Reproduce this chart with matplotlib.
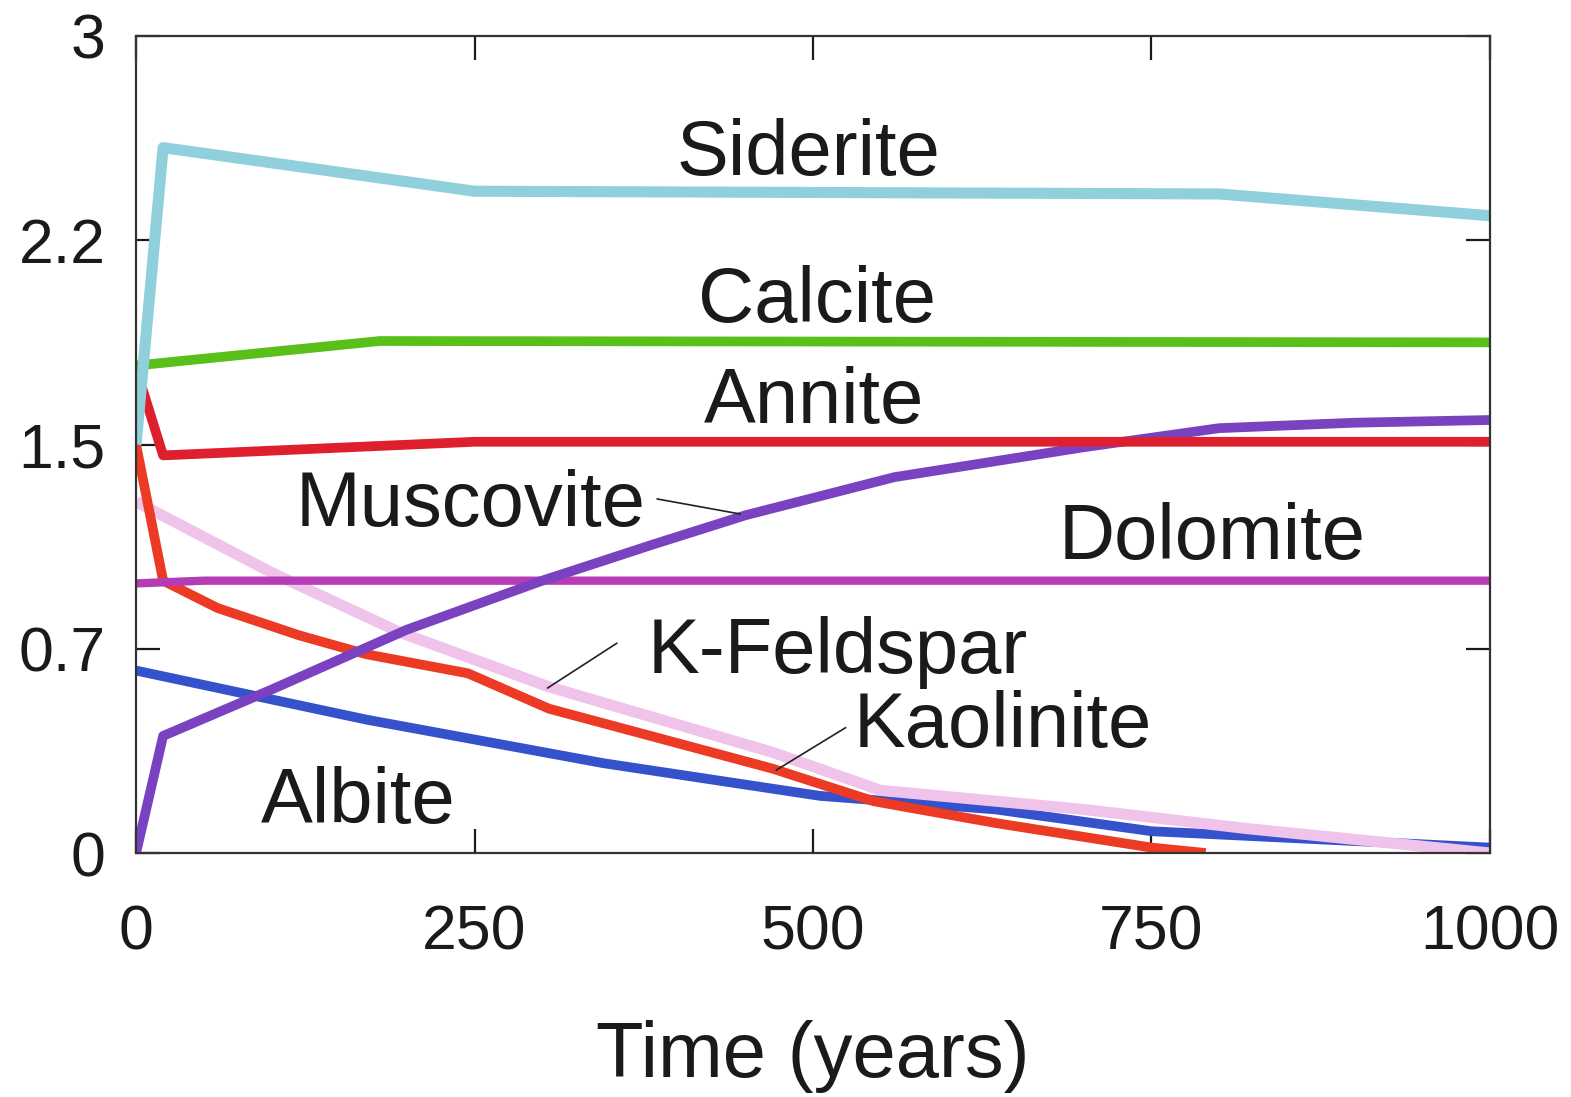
import numpy as np
import matplotlib.pyplot as plt

plt.rcParams['font.family'] = ['Liberation Sans', 'DejaVu Sans']

# mineral volume fraction vs time
siderite_t = [0, 20, 250, 800, 1000]
siderite_v = [1.5, 2.59, 2.43, 2.42, 2.34]

calcite_t = [0, 180, 1000]
calcite_v = [1.79, 1.88, 1.875]

annite_t = [0, 20, 250, 1000]
annite_v = [1.78, 1.46, 1.51, 1.51]

muscovite_t = [0, 20, 100, 200, 300, 380, 450, 560, 700, 800, 900, 1000]
muscovite_v = [0.0, 0.43, 0.6, 0.82, 1.0, 1.13, 1.24, 1.38, 1.49, 1.56, 1.58, 1.59]

dolomite_t = [0, 50, 1000]
dolomite_v = [0.99, 1.0, 1.0]

kfeldspar_t = [0, 100, 195, 305, 470, 550, 700, 820, 1000]
kfeldspar_v = [1.29, 1.03, 0.81, 0.61, 0.37, 0.23, 0.16, 0.09, 0.0]

kaolinite_t = [0, 20, 60, 120, 170, 245, 305, 470, 545, 635, 750, 790]
kaolinite_v = [1.5, 1.0, 0.9, 0.8, 0.73, 0.66, 0.53, 0.31, 0.19, 0.11, 0.02, 0.0]

albite_t = [0, 170, 345, 505, 635, 750, 1000]
albite_v = [0.67, 0.49, 0.33, 0.21, 0.16, 0.08, 0.02]

yticks = [0, 0.75, 1.5, 2.25, 3]
ytick_labels = ['0', '0.7', '1.5', '2.2', '3']
xticks = [0, 250, 500, 750, 1000]

fig = plt.figure(figsize=(15.71, 10.97), dpi=100)
ax = fig.add_axes([0.0866, 0.2224, 0.8618, 0.7448])

ax.plot(albite_t, albite_v, color='#3551cc', lw=7, solid_capstyle='butt')
ax.plot(kfeldspar_t, kfeldspar_v, color='#efc3ea', lw=8, solid_capstyle='butt')
ax.plot(kaolinite_t, kaolinite_v, color='#ec3a24', lw=7, solid_capstyle='butt')
ax.plot(dolomite_t, dolomite_v, color='#b53cb5', lw=6, solid_capstyle='butt')
ax.plot(muscovite_t, muscovite_v, color='#7a42c0', lw=7, solid_capstyle='butt')
ax.plot(annite_t, annite_v, color='#dd1f2e', lw=7, solid_capstyle='butt')
ax.plot(calcite_t, calcite_v, color='#5abf1a', lw=7, solid_capstyle='butt')
ax.plot(siderite_t, siderite_v, color='#8fd0dc', lw=8, solid_capstyle='butt')

ax.set_xlim(0, 1000)
ax.set_ylim(0, 3)
ax.set_xticks(xticks)
ax.set_yticks(yticks)
ax.set_yticklabels(ytick_labels)
ax.tick_params(direction='in', length=17, width=1.6, labelsize=45, pad=22,
               top=True, right=True, colors='#1a1a1a')
ax.tick_params(axis='x', pad=36)
for s in ax.spines.values():
    s.set_linewidth(1.6)
    s.set_color('#333333')

ax.set_xlabel('Time (years)', fontsize=56, labelpad=42, color='#1a1a1a')

lab = dict(fontsize=56, color='#1a1a1a', ha='center', va='center')
ax.text(497, 2.565, 'Siderite', **lab)
ax.text(503, 2.025, 'Calcite', **lab)
ax.text(501, 1.655, 'Annite', **lab)
ax.text(247, 1.275, 'Muscovite', **lab)
ax.text(795, 1.155, 'Dolomite', **lab)
ax.text(518, 0.735, 'K-Feldspar', **lab)
ax.text(640, 0.465, 'Kaolinite', **lab)
ax.text(164, 0.185, 'Albite', **lab)

# leader lines
ax.plot([385, 446], [1.30, 1.245], color='#222222', lw=1.2)
ax.plot([355, 304], [0.77, 0.606], color='#222222', lw=1.2)
ax.plot([524, 473], [0.46, 0.305], color='#222222', lw=1.2)

fig.savefig('out.png', dpi=100)
